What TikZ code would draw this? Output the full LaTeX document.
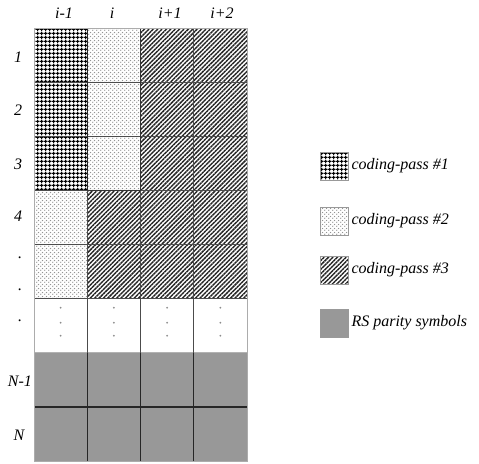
\documentclass[tikz,border=0pt]{standalone}
\usepackage{fontspec}
\setmainfont{Liberation Serif}
\usetikzlibrary{patterns.meta}
\tikzdeclarepattern{
  name=passone, type=colored,
  bottom left={(0pt,0pt)}, top right={(4pt,4pt)}, tile size={(4pt,4pt)},
  code={
    \fill[white] (0pt,0pt) rectangle (4pt,4pt);
    \fill[black!90] (0pt,1.45pt) rectangle (4pt,2.55pt);
    \fill[black!90] (1.45pt,0pt) rectangle (2.55pt,4pt);
    \fill[black] (2pt,2pt) circle (1.55pt);
  }
}
\tikzdeclarepattern{
  name=passtwo, type=colored,
  bottom left={(0pt,0pt)}, top right={(4pt,4pt)}, tile size={(4pt,4pt)},
  code={
    \fill[white] (0pt,0pt) rectangle (4pt,4pt);
    \fill[gray!85] (1pt,1pt) circle (0.8pt);
    \fill[gray!85] (3pt,3pt) circle (0.8pt);
  }
}
\tikzdeclarepattern{
  name=passthree, type=colored,
  bottom left={(0pt,-1.55pt)}, top right={(3.1pt,1.55pt)}, tile size={(3.1pt,3.1pt)},
  tile transformation={rotate=45},
  code={
    \fill[white] (0pt,-1.55pt) rectangle (3.1pt,1.55pt);
    \fill[black!85] (0pt,-0.72pt) rectangle (3.1pt,0.72pt);
  }
}
\definecolor{rsgray}{HTML}{989898}
\begin{document}
\begin{tikzpicture}[x=1pt,y=-1pt,
  lbl/.style={font=\fontsize{16}{19}\selectfont\itshape, inner sep=0pt},
  cell/.style={draw=none, minimum width=53.25pt, minimum height=54.125pt, inner sep=0pt, outer sep=0pt},
  pone/.style={cell, pattern=passone},
  ptwo/.style={cell, pattern=passtwo},
  pthree/.style={cell, pattern=passthree},
  pblank/.style={cell, fill=white},
  prs/.style={cell, fill=rsgray},
  lgbox/.style={minimum width=28pt, minimum height=28pt, inner sep=0pt, draw=gray!80, line width=0.6pt},
  gdot/.style={circle, fill=gray!90, minimum size=2pt, inner sep=0pt},
  inner/.style={draw=black!70, line width=0.7pt},
  rsline/.style={draw=black!85, line width=1pt}
]
\useasboundingbox (0,0) rectangle (479,463);
% cells
\foreach \r/\a/\b/\c/\d in {1/pone/ptwo/pthree/pthree, 2/pone/ptwo/pthree/pthree, 3/pone/ptwo/pthree/pthree,
  4/ptwo/pthree/pthree/pthree, 5/ptwo/pthree/pthree/pthree, 6/pblank/pblank/pblank/pblank,
  7/prs/prs/prs/prs, 8/prs/prs/prs/prs}{
  \node[\a] (c\r-1) at ({34+0.5*53.25}, {28+(\r-0.5)*54.125}) {};
  \node[\b] (c\r-2) at ({34+1.5*53.25}, {28+(\r-0.5)*54.125}) {};
  \node[\c] (c\r-3) at ({34+2.5*53.25}, {28+(\r-0.5)*54.125}) {};
  \node[\d] (c\r-4) at ({34+3.5*53.25}, {28+(\r-0.5)*54.125}) {};
}
% horizontal inner lines
\foreach \r in {1,2,3,4,5}{
  \draw[inner] (c\r-1.south west) -- (c\r-4.south east);
}
\draw[draw=gray!60, line width=0.6pt] (c6-1.south west) -- (c6-4.south east);
\draw[rsline, line width=1.4pt] (c7-1.south west) -- (c7-4.south east);
% vertical inner lines
\foreach \c in {1,2,3}{
  \draw[inner] (c1-\c.north east) -- (c6-\c.south east);
  \draw[rsline] (c7-\c.north east) -- (c8-\c.south east);
}
\draw[draw=black!85, line width=1.1pt] (c1-1.north east) -- (c3-1.south east);
\draw[draw=black!80, line width=0.9pt] (c3-1.south east) -- (c3-2.south east) -- (c1-2.north east);
% outer border
\draw[draw=gray!65, line width=0.8pt] (c1-1.north west) rectangle (c8-4.south east);
% dots in blank row
\foreach \c in {1,2,3,4}{
  \path (c6-\c.center) ++(0,-18) node[gdot] (da\c) {} ++(0,15) node[gdot] (db\c) {} ++(0,13) node[gdot] (dc\c) {};
}
% column headers
\node[lbl] (h1) at (64,13) {i-1};
\node[lbl] (h2) at (112,13) {i};
\node[lbl] (h3) at (170,13) {i+1};
\node[lbl] (h4) at (222,13) {i+2};
% row labels
\node[lbl] (r1) at (18,57) {1};
\node[lbl] (r2) at (18,110) {2};
\node[lbl] (r3) at (18,164) {3};
\node[lbl] (r4) at (18,216) {4};
\node[lbl] (r5) at (20,258) {.};
\node[lbl] (r6) at (20,290) {.};
\node[lbl] (r7) at (20,321) {.};
\node[lbl] (r8) at (20,381) {N-1};
\node[lbl] (r9) at (19,435) {N};
% legend
\node[lgbox, pattern=passone] (k1) at (334,166) {};
\node[lgbox, pattern=passtwo] (k2) at (334,221) {};
\node[lgbox, pattern=passthree] (k3) at (334,270) {};
\node[lgbox, fill=rsgray] (k4) at (334,323) {};
\node[lbl, anchor=west] (t1) at ([xshift=3pt]k1.east) {coding-pass \#1};
\node[lbl, anchor=west] (t2) at ([xshift=3pt]k2.east) {coding-pass \#2};
\node[lbl, anchor=west] (t3) at ([xshift=3pt]k3.east) {coding-pass \#3};
\node[lbl, anchor=west] (t4) at ([xshift=3pt]k4.east) {RS parity symbols};
\end{tikzpicture}
\end{document}
